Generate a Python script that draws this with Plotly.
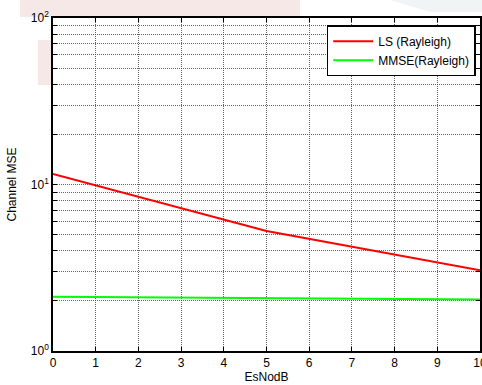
import plotly.graph_objects as go

# Data
esno_db = [0, 5, 10]
ls_mse = [11.56, 5.26, 3.05]
mmse_x = [0, 10]
mmse_mse = [2.12, 2.04]

x_ticks = list(range(0, 11))
y_ticks = [1, 2, 3, 4, 5, 6, 7, 8, 9, 10, 20, 30, 40, 50, 60, 70, 80, 90, 100]
y_ticktext = ["10<sup>0</sup>", "", "", "", "", "", "", "", "",
              "10<sup>1</sup>", "", "", "", "", "", "", "", "",
              "10<sup>2</sup>"]

W, H = 482, 385
L, R, T, B = 53, 2, 18, 34

def px(x):
    return (x - L) / (W - L - R)

def py(y):
    return (H - B - y) / (H - T - B)

fig = go.Figure()
fig.add_trace(go.Scatter(x=esno_db, y=ls_mse, mode="lines", name="LS (Rayleigh)",
                         line=dict(color="#ff0000", width=2)))
fig.add_trace(go.Scatter(x=mmse_x, y=mmse_mse, mode="lines", name="MMSE(Rayleigh)",
                         line=dict(color="#00ff00", width=2)))

# faint watermark patches outside the plot area
wm = [
    ([(20, 0), (300, 0), (300, 17), (20, 17)], "rgba(220,150,150,0.22)"),
    ([(38, 40), (52, 40), (52, 85), (38, 85)], "rgba(220,150,150,0.22)"),
    ([(390, 0), (482, 0), (482, 12), (430, 12)], "rgba(190,205,205,0.22)"),
]
for pts, col in wm:
    path = "M " + " L ".join("%f,%f" % (px(a), py(b)) for a, b in pts) + " Z"
    fig.add_shape(type="path", path=path, xref="paper", yref="paper",
                  fillcolor=col, line=dict(width=0), layer="below")

grid_col = "rgba(60,60,60,0.8)"
fig.update_layout(
    width=W, height=H,
    margin=dict(l=L, r=R, t=T, b=B, autoexpand=False),
    paper_bgcolor="white", plot_bgcolor="white",
    font=dict(family="Liberation Sans, Arial, sans-serif", size=12, color="black"),
    showlegend=True,
    legend=dict(x=0.99, y=0.978, xanchor="right", yanchor="top",
                bgcolor="white", bordercolor="black", borderwidth=1.5,
                font=dict(size=12), tracegroupgap=0, itemwidth=40),
)
fig.update_xaxes(
    range=[0, 10], tickvals=x_ticks, ticktext=[str(v) for v in x_ticks],
    showgrid=True, gridcolor=grid_col, griddash="1px,1px", gridwidth=1,
    showline=True, linecolor="black", linewidth=1.5, mirror="ticks",
    ticks="inside", ticklen=4, tickcolor="black", zeroline=False,
    ticklabeloverflow="allow", automargin=False,
    title=dict(text="EsNodB", standoff=2, font=dict(size=12)),
)
fig.update_yaxes(
    type="log", range=[0, 2], tickvals=y_ticks, ticktext=y_ticktext,
    showgrid=True, gridcolor=grid_col, griddash="1px,1px", gridwidth=1,
    showline=True, linecolor="black", linewidth=1.5, mirror="ticks",
    ticks="inside", ticklen=4, tickcolor="black", zeroline=False,
    ticklabeloverflow="allow", automargin=False,
    title=dict(text="Channel MSE", standoff=12, font=dict(size=12)),
)

fig.write_html("out.html")
